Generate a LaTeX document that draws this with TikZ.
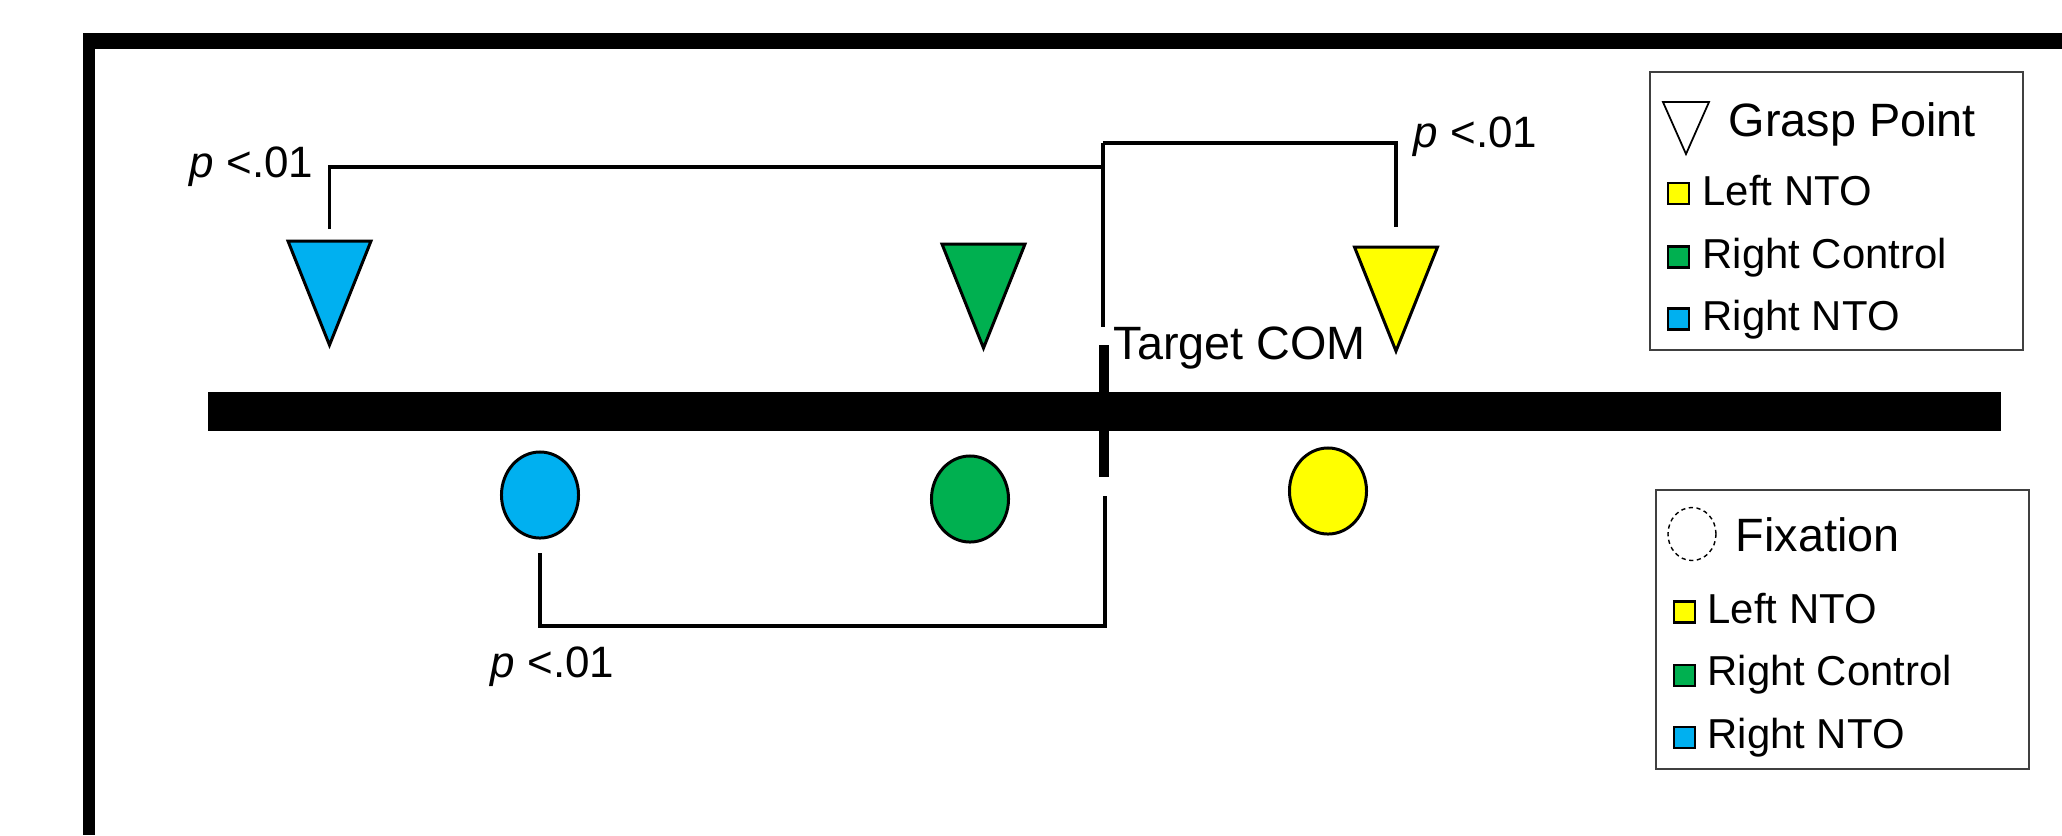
\documentclass[tikz,border=0pt]{standalone}
\usepackage{fontspec}
\setmainfont{Liberation Sans}
\usetikzlibrary{shapes.geometric, positioning, calc}
\definecolor{ntobleu}{RGB}{0,176,240}
\definecolor{ctrlvert}{RGB}{0,176,80}
\definecolor{ntojaune}{RGB}{255,255,0}
\definecolor{cadregris}{RGB}{64,64,64}

\tikzset{
  grasptri/.style={isosceles triangle, isosceles triangle stretches, shape border rotate=270,
        draw=black, line width=0.85pt, minimum width=0.83cm, minimum height=1.04cm,
        inner sep=0pt, outer sep=0pt, anchor=north},
  fixpt/.style={ellipse, draw=black, line width=0.85pt, minimum width=0.77cm,
        minimum height=0.86cm, inner sep=0pt, outer sep=0pt},
  bracket/.style={draw=black, line width=1pt},
  plabel/.style={font=\fontsize{12.5}{15}\selectfont, inner sep=0pt, anchor=base west},
  legtitle/.style={font=\fontsize{13.3}{16}\selectfont, inner sep=0pt, anchor=base west},
  legentry/.style={font=\fontsize{11.9}{14}\selectfont, inner sep=0pt, anchor=base west},
  legsq/.style={draw=black, line width=0.6pt, minimum size=0.21cm, inner sep=0pt},
  legbox/.style={draw=cadregris, line width=0.6pt, inner sep=0pt}
}

\begin{document}
\begin{tikzpicture}[x=0.01cm, y=-0.01cm]
  \useasboundingbox (0,0) rectangle (2062,835);

  % cadre et barre
  \fill[black] (83,33) rectangle (2062,49);
  \fill[black] (83,33) rectangle (95,835);
  \node[fill=black, minimum width=17.91cm, minimum height=0.39cm, inner sep=0pt] (bar) at (1104.5,411.5) {};

  % points de saisie
  \node[grasptri, fill=ntobleu] (graspRN) at (329.5,241) {};
  \node[grasptri, fill=ctrlvert] (graspRC) at (983.5,244) {};
  \node[grasptri, fill=ntojaune] (graspLN) at (1396,247) {};

  % fixations
  \node[fixpt, fill=ntobleu] (fixRN) at (540,495) {};
  \node[fixpt, fill=ctrlvert] (fixRC) at (970,499) {};
  \node[fixpt, fill=ntojaune] (fixLN) at (1328,491) {};

  % centre de masse
  \coordinate (comTop) at (1103,143);
  \coordinate (comLeft) at (1103,167);
  \coordinate (comMid) at (1103,327);
  \coordinate (tickTop) at (1104,345);
  \coordinate (tickBot) at (1104,477);
  \coordinate (comLow) at (1105,496);
  \coordinate (comBot) at (1105,626);
  \draw[line width=2.85pt] (tickTop) -- (tickBot);
  \node[legtitle] (comlabel) at (1113,359) {Target COM};

  % comparaisons
  \draw[bracket] (comTop) -- (comMid);
  \draw[bracket, shorten <=0.12cm] (graspRN.north) |- (comLeft);
  \draw[bracket, shorten >=0.20cm] (comTop) -| (graspLN.north);
  \draw[bracket, shorten <=0.15cm] (fixRN.south) |- (comBot) -- (comLow);
  \node[plabel] (pGraspRN) at (189,177) {\textit{p} <.01};
  \node[plabel] (pGraspLN) at (1413,147) {\textit{p} <.01};
  \node[plabel] (pFixRN) at (490,677) {\textit{p} <.01};

  % legende saisie
  \node[legbox, minimum width=3.73cm, minimum height=2.78cm] (legGrasp) at (1836.5,211) {};
  \node[grasptri, fill=white, line width=0.5pt, minimum width=0.46cm, minimum height=0.52cm] (legGraspSym) at (1686,102) {};
  \node[legtitle] (legGraspT) at (1728,136) {Grasp Point};
  \node[legsq, fill=ntojaune] (gsqLN) at (1678.5,193.5) {};
  \node[legsq, fill=ctrlvert] (gsqRC) at (1678.5,257) {};
  \node[legsq, fill=ntobleu] (gsqRN) at (1678.5,319) {};
  \node[legentry] (gtxtLN) at (1702,205) {Left NTO};
  \node[legentry] (gtxtRC) at (1702,268) {Right Control};
  \node[legentry] (gtxtRN) at (1702,330) {Right NTO};

  % legende fixation
  \node[legbox, minimum width=3.73cm, minimum height=2.79cm] (legFix) at (1842.5,629.5) {};
  \node[ellipse, draw=black, line width=0.4pt, dash pattern=on 1.2pt off 1pt, minimum width=0.48cm, minimum height=0.53cm, inner sep=0pt] (legFixSym) at (1692,534) {};
  \node[legtitle] (legFixT) at (1735,551) {Fixation};
  \node[legsq, fill=ntojaune] (fsqLN) at (1684.5,612) {};
  \node[legsq, fill=ctrlvert] (fsqRC) at (1684.5,675.5) {};
  \node[legsq, fill=ntobleu] (fsqRN) at (1684.5,737.5) {};
  \node[legentry] (ftxtLN) at (1707,623) {Left NTO};
  \node[legentry] (ftxtRC) at (1707,685) {Right Control};
  \node[legentry] (ftxtRN) at (1707,748) {Right NTO};
\end{tikzpicture}
\end{document}
